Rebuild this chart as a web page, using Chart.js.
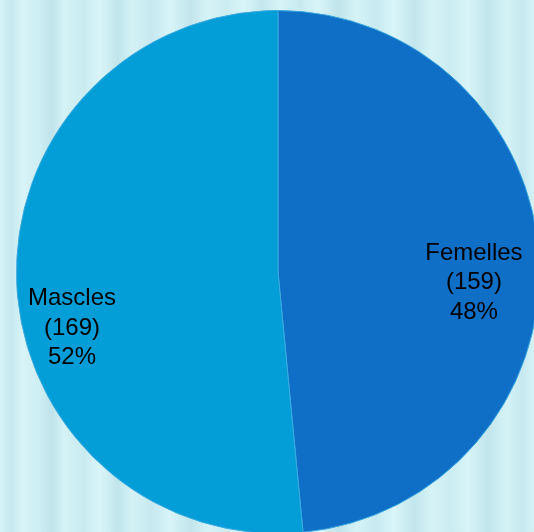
<!DOCTYPE html>
<html>
<head>
<meta charset="utf-8">
<script src="https://cdn.jsdelivr.net/npm/chart.js@4/dist/chart.umd.min.js"></script>
<style>
  html, body { margin: 0; padding: 0; overflow: hidden; }
  body {
    width: 534px; height: 532px;
    background: linear-gradient(90deg,
      #d6f3f8 0px, #c4e8ee 12px, #d8f4f8 22px, #cdeef3 40px, #bfe4ea 52px, #d5f3f7 64px,
      #c9ebf0 84px, #d9f5f9 100px, #c0e5eb 118px, #d4f2f6 132px, #c6e9ef 152px, #d8f4f8 170px,
      #c2e6ec 190px, #d6f3f7 208px, #cbecf1 226px, #d9f5f9 244px, #c3e7ed 262px, #d7f4f8 280px,
      #c8eaef 300px, #d9f5f9 318px, #bfe4ea 338px, #d5f3f7 356px, #c7eaf0 376px, #d9f5f9 394px,
      #c2e6ec 414px, #d6f3f7 432px, #cbecf1 450px, #d8f4f8 468px, #c0e5eb 488px, #d5f3f7 506px,
      #c6e9ef 522px, #d4f2f6 534px);
  }
  #wrap { position: absolute; left: 0; top: 0; width: 556px; height: 544px; }
</style>
</head>
<body>
<div id="wrap"><canvas id="pie" width="556" height="544"></canvas></div>
<script>
const categories = ["Femelles", "Mascles"]
const counts = [159, 169]
const percents = ["48%", "52%"]
const sliceColors = ['#0f6fc6', '#039dd8']

// label anchor tweaks relative to each slice (fraction of radius, extra px)
const labelRadius = [0.75, 0.80]
const labelShift = [[0, 20], [3, 46]]

const sliceLabels = {
  id: 'sliceLabels',
  afterDatasetsDraw(chart) {
    const ctx = chart.ctx
    const arcs = chart.getDatasetMeta(0).data
    ctx.save()
    ctx.font = '24px "Liberation Sans", Arial, sans-serif'
    ctx.fillStyle = '#000000'
    ctx.textAlign = 'center'
    ctx.textBaseline = 'middle'
    arcs.forEach((arc, i) => {
      const p = arc.getProps(['x', 'y', 'startAngle', 'endAngle', 'outerRadius'])
      const mid = (p.startAngle + p.endAngle) / 2
      const r = p.outerRadius * labelRadius[i]
      const cx = p.x + Math.cos(mid) * r + labelShift[i][0]
      const cy = p.y + Math.sin(mid) * r + labelShift[i][1]
      const lines = [categories[i], '(' + counts[i] + ')', percents[i]]
      lines.forEach((t, j) => ctx.fillText(t, cx, cy + (j - 1) * 29.5))
    })
    ctx.restore()
  }
}

new Chart(document.getElementById('pie'), {
  type: 'pie',
  data: {
    labels: categories,
    datasets: [{
      data: counts,
      backgroundColor: sliceColors,
      borderColor: '#3aa9e0',
      borderWidth: 1
    }]
  },
  options: {
    responsive: false,
    animation: false,
    layout: { padding: 10 },
    plugins: { legend: { display: false }, tooltip: { enabled: false } }
  },
  plugins: [sliceLabels]
})
</script>
</body>
</html>
